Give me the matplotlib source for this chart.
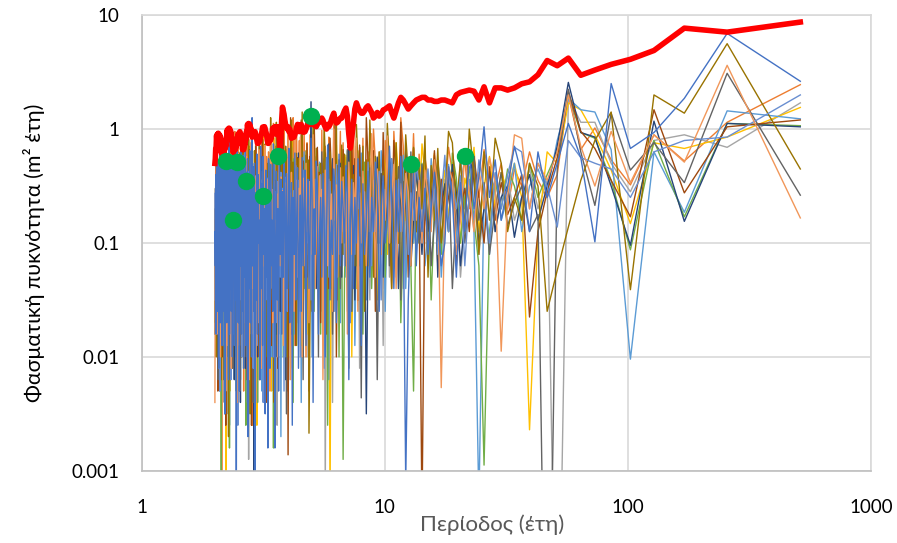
import numpy as np
import matplotlib.pyplot as plt
from matplotlib.ticker import FixedLocator, FixedFormatter, NullLocator

plt.rcParams['font.family'] = ['Lato', 'Noto Sans', 'DejaVu Sans']

# Fourier periods of a 512-year record: 512/1 ... 512/256 years
harmonic = np.arange(1, 257)
period = 512 / harmonic

# log10 of the spectral density per series, harmonic k = 1 first
lg_blue = [
    0.42, 0.84, 0.27, -0.03, -0.17, 0.40, -0.99, -0.25, 0.05, -0.3, -0.6, -0.2, -0.9, -0.4, -0.15, -0.5,
    -0.8, -0.27, -0.6, 0.02, -0.42, -0.7, -0.18, -0.9, -0.47, -1.3, -0.6, -0.33, -1.0, -1.2, -0.8, -0.38, -0.7, -1.1, -0.52, -0.9,
    -0.6, -1.2, -0.36, -0.8, -1.5, -3.1, -0.7, -0.24, -0.9, -0.45, -1.4, -0.6, -0.15, -0.8, -1.0, -0.41, -0.7, -1.6, -0.5, -0.29,
    -0.9, -0.6, -1.3, -0.37, -0.8, -1.1, -0.48, -1.9, -0.7, -0.26, -1.0, -0.6, -1.4, -0.44, -0.8, -2.2, -0.57, -0.32, -1.0, -0.7,
    -0.46, -1.2, -0.22, -0.9, -1.7, -0.55, -0.35, -1.1, -0.8, -1.5, -0.43, -0.14, -1.0, -2.0, -0.7, -0.39, -1.3, -0.6, -0.9, -1.8,
    -0.5, -0.28, -1.1, -0.7, -2.4, -0.53, -0.08, -0.9, -1.4, -0.44, -0.8, -1.9, -0.36, -0.7, -1.2, -0.25, -1.6, -0.58, -1.0, -2.1,
    -0.34, -0.8, -1.5, -0.21, -1.1, -0.6, -2.6, -0.47, -0.9, -1.7, -0.17, -1.0, -1.4, -0.39, -2.0, -0.7, -0.27, -1.3, -0.55, -1.8,
    -0.44, -1.1, -0.23, -2.3, -0.7, -1.5, -0.37, -1.0, -2.8, -0.52, -0.13, -1.6, -0.8, -1.2, -0.31, -2.1, -0.9, -0.26, -2.8, -0.6,
    -1.3, -0.36, -2.5, -0.7, -1.1, -0.24, -1.9, -0.48, -1.4, -0.15, -2.2, -0.8, -1.0, -0.4, -1.8, -0.22, -1.5, -0.56, -3.3, -0.3,
    -1.6, -0.33, -1.2, 0.1, -2.0, -0.45, -1.7, -0.19, -1.4, -0.52, -2.7, -0.26, -1.5, -0.38, -1.9, -0.12, -1.3, -0.47, -2.1, -0.23,
    -1.6, -0.35, -1.8, -0.2, -1.2, -0.44, -2.3, -0.27, -1.7, -0.5, -1.4, -0.18, -3.4, -0.41, -1.5, -0.3, -1.9, -0.36, -1.3, -0.16,
    -2.0, -0.43, -1.6, -0.25, -1.4, -0.34, -1.8, -0.11, -2.2, -0.46, -1.5, -0.28, -1.7, -0.39, -1.2, -0.21, -2.5, -0.49, -1.6, -0.3,
    -1.4, -0.37, -1.9, -0.24, -1.3, -0.42, -1.7, -0.15, -1.5, -0.33, -2.1, -0.27, -1.6, -0.45, -1.3, -0.19, -1.8, -0.4, -1.2, -0.9,
]
lg_orange = [
    0.39, 0.06, -0.28, -0.05, -0.49, -0.27, 0.01, -0.18, 0.30, -0.4, -0.6, -0.45, -0.2, -0.5, -0.35, -0.7,
    -0.3, -0.52, -0.41, -0.18, -0.6, -0.35, -0.7, -0.27, -0.48, -0.9, -0.38, -0.16, -0.6, -1.0, -0.45, -0.23, -0.8, -0.43, -0.25, -0.6,
    -0.22, -0.9, -0.04, -0.7, -0.35, -1.2, -0.15, 0.1, -0.8, -0.4, -0.02, -1.1, -0.3, -0.7, -0.1, -1.4, -0.6, -0.2, -0.9, -0.28,
    0.0, -0.7, -1.0, -0.2, -0.6, -1.3, -0.08, -0.8, -0.3, -1.6, -0.15, -0.7, 0.12, -1.0, -0.4, -0.05, -1.2, -0.25, -0.8, -0.12,
    -1.1, -0.02, -0.6, -1.5, -0.2, -0.9, 0.08, -0.7, -1.2, -0.28, -0.07, -1.8, -0.4, -0.15, -1.0, -0.7, -0.01, -1.4, -0.3, -0.8,
    -0.18, -1.1, -0.6, 0.1, -1.7, -0.26, -0.8, -0.05, -1.3, -0.4, -0.12, -2.0, -0.7, 0.03, -1.0, -0.24, -0.9, -1.5, -0.1, -0.6,
    -1.2, -0.04, -0.8, -1.9, -0.28, 0.1, -1.1, -0.7, -0.18, -1.6, -0.36, 0.0, -2.3, -0.8, -0.24, -1.0, 0.06, -1.4, -0.7, -0.1,
    -1.8, -0.26, -0.9, -0.02, -1.3, -0.4, -2.5, -0.15, -0.8, -1.1, 0.05, -1.7, -0.3, -0.9, 0.02, -1.5, -0.7, -0.2, -2.0, -0.38,
    -0.24, -1.2, -0.8, -0.42, -1.9, -0.3, -1.0, -0.03, -1.6, -0.51, -0.9, -2.2, -0.35, -0.7, -1.3, -0.46, -1.0, -0.12, -1.8, -0.57,
    -1.1, -0.33, -2.6, -0.7, -0.06, -1.4, -0.52, -1.0, -0.28, -2.0, -0.44, -1.2, -0.11, -1.7, -0.8, -0.36, -1.1, -0.55, -2.3, -0.41,
    -0.9, -0.07, -1.5, -0.53, -1.1, -0.3, -1.9, -0.7, -0.15, -1.3, -0.46, -2.1, -0.34, -0.8, -1.6, -0.02, -1.0, -0.57, -1.4, -0.39,
    -2.0, -0.27, -1.2, -0.7, -1.7, -0.05, -0.9, -1.5, -0.44, -2.4, -0.32, -1.1, -0.58, -1.8, -0.13, -1.3, -0.7, -2.2, -0.4, -1.0,
    -0.31, -1.6, -0.54, -3.3, -0.42, -1.2, -0.1, -1.9, -0.7, -1.0, -0.29, -1.5, -0.56, -2.0, -0.37, -1.3, -0.22, -1.7, -0.8, -1.1,
]
lg_gray = [
    0.23, -0.16, -0.05, -0.1, -0.55, -0.3, 0.06, 0.06, 0.28, -5.5, -0.45, -0.7, -0.35, -0.6, -0.8, -0.4,
    -0.6, -0.9, -0.34, -0.7, -1.1, -0.47, -0.25, -0.8, -1.3, -0.56, -0.38, -0.9, -0.44, -0.7, -1.2, -0.31, -0.6, -1.0, -0.22, -0.8,
    -0.48, -1.1, -0.7, -0.36, -0.9, -0.53, -1.4, -0.19, -0.7, -1.0, -0.42, -0.8, -1.3, -0.29, -0.6, -1.9, -0.45, -0.8, -0.24, -1.1,
    -0.57, -0.33, -1.5, -0.7, -0.43, -1.0, -0.21, -0.8, -2.1, -0.46, -0.9, -0.35, -1.2, -0.55, -0.8, -0.27, -1.6, -0.7, -0.41, -1.1,
    -0.32, -0.9, -1.4, -0.54, -0.23, -1.0, -0.7, -2.4, -0.45, -0.8, -1.2, -0.37, -0.6, -3.2, -0.26, -0.9, -0.48, -1.1, -0.7, -0.34,
    -1.3, -0.58, -0.9, -0.2, -1.6, -0.43, -0.8, -1.1, -0.31, -2.0, -0.7, -0.47, -1.2, -0.24, -0.9, -1.5, -0.55, -0.36, -1.0, -0.7,
    -0.44, -1.7, -0.29, -0.9, -1.2, -0.52, -0.18, -1.4, -0.8, -0.4, -2.2, -0.7, -1.0, -0.33, -1.3, -0.57, -0.9, -1.8, -0.45, -0.23,
    -1.1, -0.7, -1.5, -0.35, -0.9, -2.6, -0.5, -0.21, -1.2, -0.8, -1.6, -0.42, -1.0, -0.3, -1.9, -0.7, -1.3, -0.46, -0.8, -1.4,
    -0.37, -2.1, -0.7, -1.0, -0.44, -1.5, -0.2, -1.2, -0.8, -1.8, -0.48, -0.9, -1.3, -0.32, -2.4, -0.56, -1.1, -0.7, -1.6, -0.38,
    -1.0, -0.55, -1.9, -0.43, -1.3, -0.8, -0.27, -1.7, -0.6, -2.9, -0.46, -1.1, -0.7, -1.5, -0.34, -1.2, -0.9, -2.0, -0.49, -1.4,
    -0.7, -1.1, -0.31, -1.8, -0.56, -1.3, -0.44, -2.3, -0.8, -1.0, -0.25, -1.6, -0.7, -1.2, -0.47, -1.9, -0.6, -1.0, -0.36, -1.5,
    -0.8, -2.1, -0.42, -1.2, -0.7, -1.6, -0.29, -1.1, -0.9, -2.5, -0.53, -1.3, -0.45, -1.7, -0.8, -1.0, -0.33, -1.4, -0.7, -2.0,
    -0.48, -1.2, -0.8, -1.6, -0.35, -1.1, -0.7, -1.9, -0.57, -1.3, -0.44, -2.2, -0.7, -1.0, -0.3, -1.5, -0.8, -1.2, -0.52, -1.4,
]
lg_gold = [
    0.19, -0.07, -0.17, -0.12, -0.83, -0.36, -0.05, 0.17, 0.23, -0.3, -0.2, -0.9, -2.64, -0.6, -0.3, -0.55,
    -0.38, -0.7, -0.24, -0.5, -0.9, -0.16, -0.6, -0.43, -1.0, -0.52, -0.29, -0.8, -0.36, -0.6, -1.2, -0.21, -0.47, -0.9, -0.4, -0.13,
    -0.7, -0.34, -1.0, -0.55, -0.27, -0.8, -0.6, -1.3, -0.42, -0.12, -0.9, -0.49, -0.7, -1.1, -0.33, -0.22, -0.8, -0.58, -1.5, -0.37,
    -0.6, -0.9, -0.26, -1.2, -0.45, -0.7, -0.31, -1.0, -0.56, -0.19, -1.4, -0.48, -0.8, -2.0, -0.35, -0.6, -0.9, -0.23, -1.1, -0.44,
    -0.8, -0.39, -1.3, -0.6, -0.14, -0.9, -0.47, -1.6, -0.7, -3.3, -1.0, -0.57, -0.28, -0.41, -0.7, -0.5, -1.2, -0.33, -0.8, -0.6,
    -1.1, -0.25, -0.7, -1.5, -0.46, -0.9, -0.06, -1.2, -0.55, -0.3, -1.8, -0.7, -0.43, -1.0, -0.36, -1.4, -0.8, -0.2, -1.1, -0.53,
    -0.9, -0.38, -1.6, -0.47, -0.8, -1.2, -0.04, -0.7, -2.1, -0.44, -1.0, -0.31, -1.3, -0.57, -0.9, -1.7, -0.35, -0.7, -1.1, -0.48,
    -0.24, -1.4, -0.56, -1.0, -0.39, -1.9, -0.7, -0.45, -1.2, -0.08, -0.8, -1.5, -0.53, -2.3, -0.32, -1.0, -0.7, -1.3, -0.42, -0.9,
    -1.7, -0.36, -1.1, -0.58, -1.4, -0.03, -2.0, -0.8, -0.46, -1.2, -0.7, -1.6, -0.29, -1.0, -0.55, -2.6, -0.41, -1.3, -0.8, -1.0,
    -0.34, -1.5, -0.7, -1.1, -0.48, -1.8, -0.56, -1.0, -0.15, -1.4, -0.8, -2.2, -0.44, -1.2, -0.7, -1.6, -0.27, -1.1, -0.9, -1.9,
    -0.42, -1.3, -0.7, -1.0, -0.21, -1.7, -0.55, -1.2, -0.8, -2.5, -0.47, -1.1, -0.7, -1.5, -0.31, -1.3, -0.9, -2.0, -0.52, -1.2,
    -0.7, -1.6, -0.38, -1.0, -0.8, -2.3, -0.57, -1.4, -0.26, -1.1, -0.9, -1.8, -0.45, -3.4, -0.7, -1.2, -0.5, -1.5, -0.8, -1.0,
    -0.43, -1.7, -0.7, -1.2, -0.54, -2.0, -0.33, -1.3, -0.8, -1.6, -0.49, -1.1, -0.37, -1.9, -0.7, -1.4, -0.56, -1.0, -0.8, -1.3,
]
lg_lightblue = [
    0.09, 0.16, -0.73, -0.2, -2.02, -0.18, 0.15, 0.17, 0.27, -0.1, -0.55, -0.35, -0.5, -0.9, -0.3, -0.6,
    -0.8, -0.39, -1.1, -0.56, -3.3, -0.9, -0.44, -0.7, -0.22, -1.0, -0.58, -0.31, -0.8, -1.3, -0.47, -0.7, -0.26, -0.9, -1.2, -0.53,
    -0.35, -0.8, -1.0, -0.46, -0.7, -1.4, -0.23, -0.57, -0.9, -0.41, -1.2, -0.3, -0.8, -0.55, -1.6, -0.44, -0.19, -1.0, -0.7, -0.37,
    -1.1, -0.52, -0.32, -0.9, -1.5, -0.45, -0.7, -0.21, -1.2, -0.58, -0.8, -1.9, -0.36, -0.7, -1.0, -0.48, -0.27, -1.3, -0.55, -0.9,
    -0.43, -1.7, -0.33, -0.7, -1.1, -0.54, -0.18, -1.4, -0.8, -0.46, -2.2, -0.57, -0.9, -0.35, -1.2, -0.7, -0.42, -1.6, -0.29, -1.0,
    -0.7, -0.24, -1.3, -0.53, -0.9, -2.0, -0.45, -0.8, -1.1, -0.32, -0.7, -1.5, -0.56, -0.2, -1.0, -0.8, -2.4, -0.43, -0.9, -0.55,
    -1.2, -0.36, -0.8, -1.8, -0.47, -1.0, -0.7, -0.16, -1.4, -0.9, -0.44, -2.1, -0.58, -1.1, -0.31, -0.8, -1.6, -0.49, -1.0, -0.7,
    -2.7, -0.42, -0.9, -1.3, -0.25, -1.0, -0.7, -1.7, -0.51, -0.8, -1.2, -0.34, -2.0, -0.57, -1.1, -0.8, -1.5, -0.28, -0.9, -1.3,
    -0.55, -1.0, -0.37, -1.8, -0.7, -1.2, -0.46, -2.3, -0.6, -0.9, -1.4, -0.41, -1.1, -0.7, -1.7, -0.22, -1.0, -0.8, -2.1, -0.53,
    -1.3, -0.44, -1.0, -0.7, -1.6, -0.3, -1.2, -0.9, -2.5, -0.56, -1.1, -0.38, -1.4, -0.8, -1.0, -0.26, -1.9, -0.7, -1.2, -0.47,
    -1.5, -0.8, -1.1, -0.35, -2.2, -0.57, -1.3, -0.9, -1.0, -0.43, -1.7, -0.7, -1.2, -0.29, -2.0, -0.54, -1.4, -0.8, -1.1, -0.4,
    -1.8, -0.7, -1.0, -0.33, -1.5, -0.58, -2.6, -0.8, -1.2, -0.45, -1.4, -0.7, -1.0, -0.37, -2.1, -0.55, -1.3, -0.9, -1.6, -0.24,
    -1.1, -0.7, -1.8, -0.46, -1.3, -0.8, -1.0, -0.52, -2.3, -0.34, -1.2, -0.7, -1.5, -0.42, -1.0, -0.8, -1.9, -0.57, -1.2, -0.7,
]
lg_green = [
    0.03, 0.05, -0.77, -0.1, -1.06, -0.45, -0.08, -0.03, 0.30, -0.2, -0.4, -0.6, -0.3, -0.8, -0.5, -0.35,
    -0.7, -0.46, -0.9, -2.95, -1.2, -0.8, -0.33, -0.6, -1.0, -0.43, -0.21, -0.9, -0.55, -1.1, -0.37, -0.7, -1.5, -0.48, -0.8, -0.3,
    -1.0, -0.57, -2.3, -1.2, -0.7, -0.45, -0.9, -1.7, -0.34, -0.8, -0.52, -1.1, -0.24, -0.7, -1.3, -0.41, -0.9, -0.36, -1.0, -0.58,
    -0.8, -1.4, -0.44, -0.7, -1.0, -0.29, -1.8, -0.55, -0.9, -0.4, -1.2, -0.7, -0.32, -1.6, -0.56, -1.0, -0.19, -0.8, -1.3, -2.9,
    -0.9, -0.53, -2.0, -0.35, -0.7, -1.1, -0.46, -0.8, -1.4, -0.57, -0.27, -2.6, -0.7, -0.9, -0.42, -1.2, -0.55, -1.8, -0.31, -0.8,
    -1.1, -0.44, -0.7, -1.6, -0.22, -0.9, -1.2, -0.54, -2.2, -0.38, -0.8, -1.0, -0.3, -1.4, -0.7, -0.47, -1.9, -0.56, -1.0, -0.8,
    -0.41, -1.3, -0.7, -1.0, -0.26, -2.4, -0.53, -0.9, -1.5, -0.36, -0.8, -1.1, -0.45, -1.7, -0.58, -1.0, -0.7, -2.0, -0.34, -1.2,
    -0.8, -0.48, -1.4, -0.7, -1.0, -0.23, -1.8, -0.55, -1.1, -0.8, -2.8, -0.39, -1.3, -0.7, -0.9, -0.3, -1.6, -0.57, -1.2, -0.8,
    -2.1, -0.43, -1.0, -0.7, -1.5, -0.28, -1.2, -0.8, -1.9, -0.52, -1.0, -0.37, -1.4, -0.9, -2.4, -0.55, -1.1, -0.7, -1.7, -0.45,
    -1.0, -0.8, -1.5, -0.32, -2.2, -0.56, -1.3, -0.7, -1.0, -0.41, -1.8, -0.8, -1.2, -0.27, -2.6, -0.7, -1.1, -0.48, -1.5, -0.9,
    -1.2, -0.54, -2.0, -0.38, -1.4, -0.8, -1.1, -0.25, -1.7, -0.7, -1.0, -0.57, -2.3, -0.43, -1.3, -0.8, -1.0, -0.52, -1.9, -0.35,
    -1.2, -0.7, -1.6, -0.3, -1.0, -0.8, -2.8, -0.55, -1.3, -0.44, -1.1, -0.7, -1.8, -0.33, -1.2, -0.9, -1.5, -0.58, -2.2, -0.41,
    -1.0, -0.7, -1.4, -0.47, -3.0, -0.56, -1.2, -0.8, -1.6, -0.29, -1.1, -0.7, -2.0, -0.45, -1.3, -0.9, -1.0, -0.53, -1.7, -0.8,
]
lg_darkblue = [
    0.02, 0.05, -0.81, 0.07, -1.02, -0.5, -0.07, -0.03, 0.41, -0.15, -0.5, -0.8, -0.4, -0.6, -0.95, -0.5,
    -0.6, -0.9, -0.37, -0.7, -1.0, -0.45, -0.22, -0.8, -1.2, -0.56, -0.31, -0.9, -0.48, -0.7, -1.3, -0.27, -0.6, -0.9, -0.42, -1.1,
    -0.7, -0.35, -0.8, -1.2, -0.47, -0.18, -0.9, -0.55, -1.4, -0.43, -0.7, -1.0, -0.29, -0.8, -0.57, -1.3, -0.39, -0.9, -0.25, -1.1,
    -0.53, -0.8, -0.34, -1.0, -2.5, -0.7, -0.44, -1.2, -0.16, -0.8, -0.58, -1.5, -0.32, -0.9, -0.7, -0.07, -1.1, -0.49, -0.9, -0.38,
    -1.3, -0.3, -0.7, -1.0, -0.46, -0.8, -1.6, -0.26, -0.55, -0.9, -0.13, -1.2, -0.7, -0.41, -1.9, -0.57, -0.8, -0.33, -1.0, -0.7,
    -0.44, -1.4, -0.56, -0.9, -0.28, -1.1, 0.24, -0.8, -0.47, -1.3, -0.7, -0.35, -1.0, -0.54, -2.0, -0.4, -0.9, -0.7, -1.2, -0.21,
    -0.8, -1.5, -0.52, -0.32, -1.1, -0.7, -0.9, -1.8, -0.43, -0.8, -0.57, -1.3, -0.25, -0.9, -2.2, -0.48, -1.0, -0.36, -1.2, -0.7,
    -0.3, -1.6, -0.8, -1.0, -0.45, -1.3, -0.7, -2.0, -0.53, -0.9, -0.19, -1.4, -0.7, -1.1, -0.41, -1.7, -0.8, -1.0, -0.56, -2.4,
    -0.7, -1.2, -0.38, -0.9, -1.5, -0.55, -1.0, -0.24, -1.8, -0.7, -1.1, -0.44, -1.3, -0.8, -2.0, -0.49, -1.0, -0.33, -1.4, -0.7,
    -3.3, -0.52, -1.1, -0.8, -1.5, -0.37, -1.2, -0.7, -1.9, -0.46, -1.0, -0.28, -1.4, -0.8, -2.1, -0.57, -1.1, -0.7, -1.6, -0.42,
    -1.0, -0.8, -1.3, -0.51, -2.4, -0.36, -1.1, -0.7, -1.5, -0.55, -1.0, -0.9, -1.8, -0.43, -1.2, -0.7, -2.2, -0.48, -1.0, -0.8,
    -1.4, -0.39, -1.1, -0.7, -1.7, -0.54, -1.2, -0.9, -2.0, -0.31, -1.3, -0.7, -1.0, -0.46, -1.6, -0.8, -2.5, -0.35, -1.1, -0.7,
    -1.3, -0.57, -1.8, -0.8, -1.0, -0.44, -1.5, -0.7, -2.1, -0.52, -1.2, -0.9, -1.4, -0.38, -1.0, -0.7, -1.7, -0.55, -1.3, -0.8,
]
lg_brown = [
    0.08, 0.02, -0.56, 0.17, -0.77, -0.45, -0.17, -0.02, 0.33, -0.25, -0.55, -0.9, -1.65, -0.4, -0.6, -0.75,
    -0.47, -0.8, -0.33, -1.0, -0.6, -0.24, -0.9, -0.52, -0.7, -1.2, -0.38, -0.6, -0.8, -0.44, -1.0, -0.19, -0.7, -1.1, -0.56, -3.4,
    -0.6, -0.9, -0.17, -0.7, -1.3, -0.3, -0.8, 0.06, -1.0, -0.37, -0.1, -1.4, -0.7, -0.25, -0.9, -0.03, -1.1, -0.39, -0.8, -1.6,
    -0.19, -0.7, -1.0, -0.28, 0.1, -1.2, -0.4, -0.9, -0.14, -1.5, -0.7, -0.26, -1.1, 0.0, -0.8, -1.8, -0.33, -0.7, -1.0, -0.18,
    -0.6, -1.3, -0.27, -0.8, -2.0, 0.12, -0.7, -1.0, -0.36, -0.08, -1.4, -0.6, -0.9, -0.21, -1.2, -0.7, -0.3, -1.7, -0.38, -0.8,
    -0.16, -1.1, -0.7, 0.14, -1.5, -0.39, -0.9, -0.24, -2.3, -0.7, -0.13, -1.0, -0.37, -1.3, -0.28, -0.8, 0.08, -1.6, -0.7, -1.0,
    -0.25, -0.8, -1.9, -0.09, -0.7, -1.2, -0.4, -0.9, 0.1, -1.4, -0.7, -2.86, -0.31, -1.0, -0.18, -0.8, -1.5, -0.04, -1.1, -0.7,
    -0.9, -0.45, -1.3, -0.7, -2.1, -0.06, -1.0, -0.56, -1.6, -0.8, -0.38, -1.2, -0.7, -1.9, -0.3, -0.9, -1.1, -0.53, -1.4, -0.8,
    -0.47, -2.4, -0.7, -1.0, -0.55, -1.3, -0.09, -1.7, -0.8, -1.1, -0.41, -2.0, -0.7, -0.9, -1.4, -0.52, -1.0, -0.15, -1.8, -0.7,
    -1.2, -0.56, -1.5, -0.34, -2.6, -0.7, -1.0, -0.18, -1.3, -0.8, -1.1, -0.48, -2.2, -0.4, -1.4, -0.7, -1.0, -0.57, -1.7, -0.9,
    -0.44, -1.3, -0.8, -2.0, -0.2, -1.1, -0.7, -1.5, -0.5, -1.0, -2.4, -0.58, -1.2, -0.8, -1.6, -0.27, -1.0, -0.7, -1.9, -0.53,
    -1.3, -0.8, -1.1, -0.25, -2.2, -0.7, -1.4, -0.55, -1.0, -0.8, -1.7, -0.42, -1.2, -0.7, -2.6, -0.57, -1.0, -0.9, -1.5, -0.35,
    -1.1, -0.7, -2.0, -0.48, -1.3, -0.8, -1.0, -0.39, -1.6, -0.7, -1.2, -0.54, -2.3, -0.8, -1.0, -0.46, -1.4, -0.7, -1.1, -0.9,
]
lg_darkgray = [
    -0.58, 0.49, -0.47, -0.12, -0.36, 0.14, -0.67, -0.2, 0.35, -0.35, -6.0, -0.75, -0.9, -0.5, -0.65, -0.85,
    -0.38, -0.7, -1.1, -0.47, -0.8, -0.24, -0.6, -1.0, -0.53, -0.7, -1.4, -0.35, -0.9, -0.57, -0.28, -0.8, -1.2, -0.44, -0.7, -0.31,
    -1.0, -0.55, -0.8, -0.2, -1.1, -0.7, -0.46, -1.5, -0.33, -0.9, -0.58, -0.26, -1.2, -0.43, -0.8, -0.37, -1.0, -0.7, -2.2, -0.5,
    -0.7, -0.36, -1.1, -0.56, -0.8, -1.3, -0.45, -2.36, -0.7, -0.29, -1.0, -0.54, -0.9, -1.6, -0.41, -0.8, -0.18, -1.2, -0.57, -0.9,
    -0.44, -1.4, -0.7, -0.32, -1.0, -0.8, -0.49, -1.8, -0.55, -0.9, -0.27, -1.1, -0.7, -0.42, -1.5, -0.8, -0.2, -1.0, -0.56, -2.0,
    -0.7, -0.38, -1.2, -0.8, -0.3, -1.6, -0.53, -0.9, -0.44, -1.1, -0.7, -0.23, -1.3, -0.57, -2.2, -0.8, -0.4, -1.0, -0.7, -1.5,
    -0.35, -0.9, -0.55, -1.2, -0.8, -0.46, -1.7, -0.7, -1.0, -0.28, -1.4, -0.58, -0.9, -2.5, -0.43, -1.1, -0.7, -0.8, -1.6, -0.39,
    -1.0, -0.7, -1.3, -0.32, -1.9, -0.56, -0.9, -1.2, -0.45, -0.8, -2.3, -0.51, -1.1, -0.7, -1.5, -0.37, -1.0, -0.8, -1.8, -0.54,
    -1.2, -0.42, -0.9, -1.6, -0.7, -1.1, -0.26, -2.1, -0.57, -1.3, -0.8, -1.0, -0.44, -1.5, -0.7, -1.9, -0.53, -1.0, -0.8, -1.3,
    -0.47, -2.4, -0.7, -1.1, -0.55, -1.4, -0.8, -1.0, -0.34, -1.7, -0.7, -1.2, -0.5, -2.0, -0.8, -1.0, -0.41, -1.5, -0.7, -1.3,
    -0.57, -1.8, -0.8, -1.1, -0.36, -2.3, -0.7, -1.0, -0.9, -1.4, -0.52, -1.2, -0.7, -1.9, -0.43, -1.1, -0.8, -1.5, -0.55, -2.1,
    -0.7, -1.0, -0.8, -1.6, -0.39, -1.3, -0.9, -2.0, -0.54, -1.1, -0.7, -1.4, -0.45, -1.8, -0.8, -1.0, -0.58, -2.4, -0.7, -1.2,
    -0.8, -1.5, -0.56, -1.1, -0.9, -1.9, -0.42, -1.2, -0.7, -1.4, -0.8, -2.2, -0.53, -1.0, -0.9, -1.6, -0.47, -1.2, -0.7, -1.8,
]
lg_olive = [
    -0.35, 0.75, 0.14, 0.30, -1.41, 0.15, -0.1, -0.45, -0.86, -1.24, -1.6, -0.5, -0.3, -0.8, -0.6, -0.9,
    -0.3, -0.08, -0.8, -0.2, -1.1, -0.4, 0.0, -0.9, -0.27, -0.7, -0.12, -0.02, -0.6, -1.0, -0.17, -0.8, -0.32, -1.3, -0.06, -0.7,
    -0.34, -0.9, -0.16, -1.2, -0.4, -0.05, -0.8, -0.26, -1.0, -0.12, -0.7, -1.4, -0.3, 0.05, -0.9, -0.37, -1.1, -0.2, -0.8, -0.24,
    -1.3, -0.38, 0.08, -0.9, -0.27, -1.6, -0.15, -0.7, -1.0, -0.32, 0.04, -1.2, -0.4, -0.8, -0.18, -2.1, -0.36, -0.9, -0.22, -1.1,
    -0.14, -0.8, -0.37, -1.3, 0.1, -0.9, -0.28, -1.5, -0.7, -0.2, -1.0, -0.4, -1.8, -0.25, 0.05, -1.1, -0.7, -0.3, -1.4, -0.38,
    -0.9, -0.17, -1.2, -0.34, 0.12, -1.0, -0.7, -1.7, -2.67, -0.27, -0.8, -0.19, -1.1, -0.4, -1.5, 0.15, -0.9, -0.7, -1.3, -0.26,
    -0.8, -1.9, -0.21, -0.7, -1.1, -0.29, -0.9, 0.08, -1.4, -0.37, -1.0, -0.25, -2.0, -0.7, -0.15, -1.2, -0.39, -0.9, -1.6, 0.03,
    -0.7, -1.1, -0.28, -1.8, -0.38, -0.9, 0.06, -1.3, -0.7, -2.4, -0.24, -1.0, -0.36, -1.2, 0.1, -1.5, -0.8, -1.0, -0.3, -2.0,
    -0.57, -1.1, -0.13, -1.4, -0.7, -0.9, -1.7, -0.44, -1.0, -0.53, -2.2, -0.07, -1.2, -0.8, -1.0, -0.41, -1.6, -0.56, -1.1, -0.19,
    -1.9, -0.7, -1.0, -0.47, -1.3, -0.55, -2.5, -0.8, -1.1, -0.09, -1.5, -0.7, -1.0, -0.43, -1.8, -0.58, -1.2, -0.8, -2.1, -0.16,
    -1.0, -0.7, -1.4, -0.46, -1.1, -0.8, -1.7, -0.21, -2.3, -0.55, -1.0, -0.7, -1.3, -0.27, -1.9, -0.52, -1.1, -0.8, -1.5, -0.35,
    -2.0, -0.7, -1.2, -0.26, -1.0, -0.9, -1.6, -0.54, -2.7, -0.44, -1.1, -0.7, -1.4, -0.3, -1.0, -0.8, -1.8, -0.47, -1.2, -0.7,
    -1.5, -0.56, -1.0, -0.8, -2.2, -0.29, -1.3, -0.7, -1.1, -0.53, -1.7, -0.4, -1.0, -0.8, -1.4, -0.58, -2.0, -0.7, -1.3, -1.4,
]
lg_blue2 = [
    0.30, -0.07, -0.1, -0.2, -0.6, -0.35, -0.3, -0.25, -0.1, -0.86, -0.5, -0.3, -0.7, -0.2, -0.16, -0.4,
    -0.7, -0.38, -1.0, -0.52, -0.27, -0.8, -0.57, -1.2, -0.41, -0.7, -0.46, -0.9, -0.23, -0.6, -1.1, -0.54, -0.8, -0.35, -0.6, -1.0,
    -0.48, -0.32, -0.8, -0.56, -1.1, -0.39, -0.7, -0.9, -0.44, -1.3, -0.6, -0.26, -1.0, -0.7, -0.53, -0.8, -1.5, -0.37, -0.6, -0.9,
    -0.45, -1.2, -0.7, -0.29, -1.0, -0.55, -0.8, -1.4, -0.42, -0.7, -0.21, -1.1, -0.58, -0.9, -1.7, -0.47, -0.8, -0.34, -1.2, -0.6,
    -0.9, -0.43, -1.1, -0.7, -0.31, -1.6, -0.56, -0.8, -1.0, -0.46, -1.3, -0.7, -0.25, -0.9, -2.1, -0.53, -1.0, -0.4, -0.8, -1.4,
    -0.57, -0.9, -0.44, -1.2, -0.7, -0.33, -1.5, -0.8, -0.55, -1.0, -0.48, -1.8, -0.7, -0.9, -0.36, -1.2, -0.58, -2.0, -0.8, -0.45,
    -1.1, -0.7, -0.32, -1.4, -0.54, -0.9, -1.9, -0.47, -0.8, -1.2, -0.56, -0.27, -1.6, -0.7, -1.0, -0.42, -2.3, -0.8, -0.52, -1.1,
    -0.38, -1.3, -0.7, -1.0, -0.46, -1.7, -0.8, -0.55, -1.2, -0.3, -2.0, -0.7, -1.0, -0.49, -1.4, -0.9, -0.57, -1.8, -0.43, -1.1,
    -0.8, -1.5, -0.53, -1.0, -0.35, -2.4, -0.7, -1.2, -0.45, -1.0, -0.8, -1.6, -0.56, -1.1, -0.4, -1.9, -0.7, -1.0, -0.54, -1.4,
    -0.8, -2.1, -0.47, -1.2, -0.7, -1.0, -0.52, -1.6, -0.9, -1.1, -0.37, -2.4, -0.7, -1.3, -0.55, -1.0, -0.8, -1.7, -0.44, -1.2,
    -0.9, -2.0, -0.51, -1.1, -0.7, -1.5, -0.39, -1.0, -0.8, -2.6, -0.56, -1.2, -0.7, -1.4, -0.46, -1.0, -0.9, -1.8, -0.53, -1.1,
    -0.7, -1.5, -0.42, -2.2, -0.8, -1.0, -0.57, -1.3, -0.7, -1.7, -0.48, -1.1, -0.9, -2.0, -0.55, -1.2, -0.7, -1.5, -0.36, -1.0,
    -0.8, -1.9, -0.54, -1.2, -0.7, -1.4, -0.44, -2.3, -0.8, -1.0, -0.58, -1.6, -0.7, -1.1, -0.47, -1.8, -0.9, -1.2, -0.56, -1.5,
]
lg_lightorange = [
    -0.78, 0.56, -0.29, -0.05, -0.47, -0.02, -0.5, -0.15, 0.3, -0.2, -0.45, -0.3, -0.7, -0.08, -0.05, -0.6,
    -1.95, -0.47, -0.25, -0.7, -0.38, -0.9, -0.56, -0.21, -0.8, -1.1, -0.44, -0.33, -0.7, -2.27, -0.52, -0.27, -0.9, -0.58, -0.36, -1.0,
    -0.45, -0.8, -0.24, -1.2, -0.55, -0.39, -0.9, -0.48, -0.7, -1.4, -0.31, -0.57, -1.0, -0.06, -0.8, -0.46, -1.1, -0.7, -0.35, -1.3,
    -0.54, -0.04, -0.9, -0.43, -1.2, -0.7, -0.37, -1.0, -0.56, -1.5, -0.08, -0.8, -0.47, -1.1, -0.7, -0.29, -1.8, -0.55, -0.9, -0.42,
    -1.0, -0.34, -0.7, -1.3, -0.49, -0.8, 0.0, -1.6, -0.57, -0.9, -0.44, -1.2, -0.7, -0.36, -1.0, -2.2, -0.53, -0.8, -0.41, -1.1,
    -0.33, -0.9, -1.4, -0.55, -0.05, -1.1, -0.7, -0.46, -1.7, -0.58, -0.9, -0.3, -1.2, -0.7, -0.43, -2.0, -0.8, -0.07, -1.0, -0.52,
    -1.3, -0.45, -0.8, -0.03, -1.6, -0.7, -1.0, -0.38, -2.2, -0.56, -0.9, 0.02, -1.1, -0.7, -1.5, -0.47, -0.8, -1.9, -0.54, -1.0,
    -0.42, -1.2, -0.7, -0.09, -2.0, -0.57, -1.1, -0.8, -1.4, -0.46, -0.9, -1.7, -0.53, -1.0, -0.04, -2.3, -0.7, -1.1, -0.44, -1.3,
    -0.8, -1.0, -0.14, -1.6, -0.7, -1.2, -0.37, -1.0, -2.1, -0.55, -1.3, -0.8, -0.18, -1.7, -0.7, -1.0, -0.48, -2.4, -0.41, -1.2,
    -0.7, -1.4, -0.56, -1.0, -1.8, -0.12, -1.1, -0.8, -2.2, -0.52, -1.3, -0.7, -1.0, -0.24, -1.6, -0.8, -1.2, -0.45, -2.0, -0.7,
    -1.1, -0.27, -1.5, -0.8, -1.0, -0.54, -1.9, -0.7, -1.2, -0.21, -2.4, -0.8, -1.0, -0.57, -1.4, -0.7, -1.1, -0.3, -1.7, -0.9,
    -1.2, -0.48, -2.1, -0.7, -1.0, -0.26, -1.5, -0.8, -1.3, -0.55, -1.9, -0.7, -1.0, -0.33, -2.3, -0.8, -1.1, -0.5, -1.4, -0.7,
    -1.0, -0.38, -1.7, -0.8, -1.2, -0.56, -2.0, -0.7, -1.1, -0.42, -1.5, -0.8, -1.0, -0.53, -1.8, -0.7, -1.3, -0.45, -1.0, -2.4,
]

# red curve (m² έτη), harmonic k = 1 first
threshold = [
    8.7, 7.1, 7.7, 4.9, 4.1, 3.7, 3.3, 2.97, 4.2, 3.6, 4.0, 3.0, 2.6, 2.5, 2.3, 2.2, 2.3, 2.3, 1.7, 2.35,
    1.8, 2.15, 2.2, 2.15, 2.1, 2.0, 1.7, 1.75, 1.8, 1.8, 1.75, 1.75, 1.8, 1.8, 1.9, 1.9, 1.85, 1.8, 1.7, 1.6,
    1.5, 1.65, 1.8, 1.9, 1.7, 1.45, 1.25, 1.4, 1.6, 1.55, 1.5, 1.47, 1.35, 1.3, 1.4, 1.3, 1.25, 1.4, 1.5, 1.6,
    1.55, 1.45, 1.38, 1.38, 1.45, 1.55, 1.7, 1.5, 1.1, 0.85, 0.68, 0.9, 1.3, 1.53, 1.45, 1.35, 1.25, 1.25, 1.2, 1.15,
    1.13, 1.2, 1.38, 1.3, 1.2, 1.1, 1.05, 1.1, 1.0, 1.04, 1.1, 1.2, 1.25, 1.2, 1.15, 1.2, 1.1, 1.05, 1.1, 1.08,
    1.12, 1.2, 1.1, 1.15, 1.2, 1.15, 1.05, 1.0, 0.95, 0.94, 0.94, 1.0, 1.1, 1.05, 0.95, 1.0, 1.1, 1.04, 0.95, 0.9,
    0.85, 0.9, 0.85, 0.83, 0.9, 1.0, 0.95, 1.05, 1.0, 1.02, 1.1, 1.2, 1.35, 1.45, 1.56, 1.2, 0.85, 0.68, 0.8, 0.95,
    1.05, 1.0, 0.9, 0.95, 1.05, 1.0, 0.95, 1.02, 0.9, 0.85, 0.8, 0.85, 0.78, 0.75, 0.75, 0.8, 0.9, 0.95, 1.0, 1.05,
    0.98, 1.0, 1.04, 0.95, 0.9, 0.85, 0.8, 0.78, 0.76, 0.75, 0.75, 0.8, 0.85, 0.9, 0.95, 0.88, 0.9, 0.92, 0.92, 0.85,
    0.88, 1.02, 0.9, 1.1, 0.95, 1.12, 1.0, 1.1, 0.92, 0.95, 0.8, 0.88, 0.72, 0.8, 0.66, 0.74, 0.66, 0.8, 0.74, 0.9,
    0.82, 0.95, 0.85, 0.92, 0.8, 0.9, 0.78, 0.84, 0.7, 0.76, 0.66, 0.76, 0.65, 0.74, 0.62, 0.72, 0.7, 0.82, 0.8, 0.95,
    0.88, 1.0, 0.9, 1.02, 0.88, 1.0, 0.9, 0.98, 0.82, 0.85, 0.7, 0.78, 0.66, 0.74, 0.62, 0.7, 0.6, 0.68, 0.6, 0.66,
    0.62, 0.78, 0.72, 0.88, 0.78, 0.9, 0.76, 0.92, 0.78, 0.9, 0.76, 0.88, 0.7, 0.68, 0.55, 0.5,
]

# green points: period (έτη), spectral density
peak_period = [2.22, 2.37, 2.46, 2.68, 3.15, 3.63, 4.96, 12.8, 21.3]
peak_density = [0.52, 0.16, 0.51, 0.35, 0.26, 0.58, 1.3, 0.49, 0.58]

series = [
    (lg_orange, '#ED7D31'),
    (lg_gray, '#A5A5A5'),
    (lg_gold, '#FFC000'),
    (lg_lightblue, '#5B9BD5'),
    (lg_green, '#70AD47'),
    (lg_darkblue, '#264478'),
    (lg_brown, '#9E480E'),
    (lg_darkgray, '#636363'),
    (lg_olive, '#997300'),
    (lg_blue2, '#698ED0'),
    (lg_lightorange, '#F1975A'),
    (lg_blue, '#4472C4'),
]

fig, ax = plt.subplots(figsize=(8.97, 5.43), dpi=100)
fig.subplots_adjust(left=0.158, right=0.971, top=0.972, bottom=0.133)

for lg, color in series:
    ax.plot(period, 10 ** np.array(lg), color=color, lw=1.0)

ax.plot(period, threshold, color='#FF0000', lw=4, solid_joinstyle='round', zorder=5)
ax.plot(peak_period, peak_density, 'o', color='#00B050', ms=11.5, zorder=6)

ax.set_xscale('log')
ax.set_yscale('log')
ax.set_xlim(1, 1000)
ax.set_ylim(0.001, 10)

xt = [1, 10, 100, 1000]
yt = [0.001, 0.01, 0.1, 1, 10]
ax.xaxis.set_major_locator(FixedLocator(xt))
ax.xaxis.set_major_formatter(FixedFormatter(['1', '10', '100', '1000']))
ax.yaxis.set_major_locator(FixedLocator(yt))
ax.yaxis.set_major_formatter(FixedFormatter(['0.001', '0.01', '0.1', '1', '10']))
ax.xaxis.set_minor_locator(NullLocator())
ax.yaxis.set_minor_locator(NullLocator())
ax.tick_params(axis='both', length=0, labelsize=13.5, labelcolor='#000000')
ax.tick_params(axis='x', pad=20)
ax.tick_params(axis='y', pad=16)

ax.grid(True, color='#D9D9D9', lw=1.2)
ax.set_axisbelow(True)
for side in ['top', 'right']:
    ax.spines[side].set_color('#D9D9D9')
for side in ['left', 'bottom']:
    ax.spines[side].set_color('#BFBFBF')
for s in ax.spines.values():
    s.set_linewidth(1.2)

ax.set_xlabel('Περίοδος (έτη)', fontsize=16, color='#595959')
ax.set_ylabel('Φασματική πυκνότητα (m² έτη)', fontsize=15.5, color='#000000')
ax.xaxis.set_label_coords(0.481, -0.095)
ax.yaxis.set_label_coords(-0.132, 0.478)

fig.savefig('out.png', dpi=100)
